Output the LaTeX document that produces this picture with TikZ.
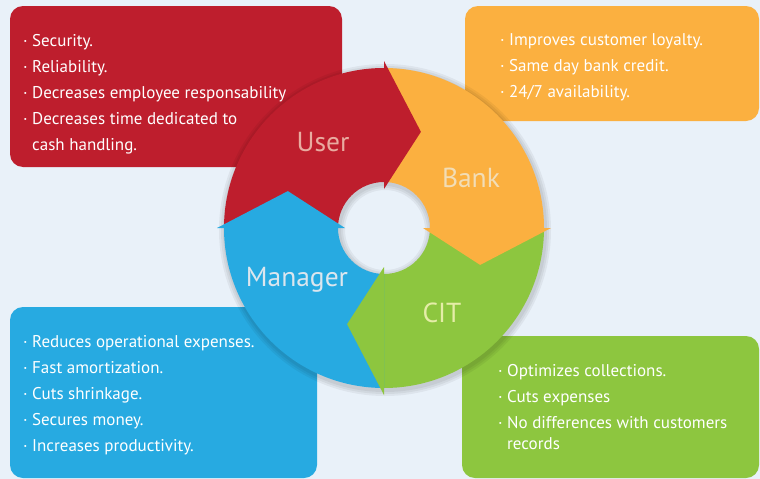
\documentclass[tikz,border=0pt]{standalone}
\usepackage{fontspec}
\setmainfont{PT Sans}
\definecolor{userred}{HTML}{BE1E2D}
\definecolor{bankorange}{HTML}{FBB040}
\definecolor{managerblue}{HTML}{27AAE1}
\definecolor{citgreen}{HTML}{8DC63F}
\definecolor{backblue}{HTML}{E9F1F9}
\definecolor{userlight}{HTML}{E9ABA0}
\definecolor{banklight}{HTML}{F2DDB6}
\definecolor{managerlight}{HTML}{DCE6EE}
\definecolor{citlight}{HTML}{E5EDA8}
\newcommand{\itm}[1]{\makebox[9pt][l]{\textperiodcentered}#1}
\newcommand{\cnt}[1]{\hspace*{9pt}#1}

\begin{document}
\begin{tikzpicture}[x=1pt,y=-1pt]
\tikzstyle{panel} = [rounded corners=13pt]
\tikzstyle{point} = [anchor=base west, inner sep=0pt, text=white, font=\fontsize{17}{20}\selectfont]
\tikzstyle{ringtext} = [inner sep=0pt, font=\fontsize{27.5}{32}\selectfont]
\useasboundingbox (0,0) rectangle (760,479);
\fill[backblue] (0,0) rectangle (760,479);
% panels
\fill[userred,panel] (10,6) rectangle (342,167);
\fill[bankorange,panel] (465,6) rectangle (759,121);
\fill[managerblue,panel] (10,307) rectangle (317,478);
\fill[citgreen,panel] (462,336) rectangle (759,478);
\foreach \t [count=\i] in {\itm{Security.},\itm{Reliability.},\itm{Decreases employee responsability},\itm{Decreases time dedicated to},\cnt{cash handling.}}
    \node[point] (user-\i) at (23,20+26*\i) {\t};
\foreach \t [count=\i] in {\itm{Improves customer loyalty.},\itm{Same day bank credit.},\itm{24/7 availability.}}
    \node[point] (bank-\i) at (500,19+26*\i) {\t};
\foreach \t [count=\i] in {\itm{Reduces operational expenses.},\itm{Fast amortization.},\itm{Cuts shrinkage.},\itm{Secures money.},\itm{Increases productivity.}}
    \node[point] (manager-\i) at (23,321+26*\i) {\t};
\node[point] (cit-1) at (498,376) {\itm{Optimizes collections.}};
\node[point] (cit-2) at (498,402) {\itm{Cuts expenses}};
\node[point] (cit-3) at (498,428) {\itm{No differences with customers}};
\node[point] (cit-4) at (498,449) {\cnt{records}};
% ring
\begin{scope}[shift={(384,228)},y=1pt]
\foreach \s in {2,4,6}
    \fill[black,opacity=.05,even odd rule] (1,-2) circle (160+\s) (1,-2) circle (46-\s);
\foreach \a/\c in {180/userred,90/bankorange,0/citgreen,-90/managerblue}
    \fill[\c] (\a:160) arc[start angle=\a,end angle=\a-90,radius=160]
        -- (\a-90:46) arc[start angle=\a-90,end angle=\a,radius=46] -- cycle;
\foreach \a/\c in {180/userred,90/bankorange,0/citgreen,-90/managerblue}
    \fill[\c] (\a-90:39) -- (\a-90:167) -- (\a-111:103) -- cycle;
\end{scope}
\node[ringtext,text=userlight] (user) at (323,142) {User};
\node[ringtext,text=banklight] (bank) at (471,178) {Bank};
\node[ringtext,text=managerlight] (manager) at (297,280) {Manager};
\node[ringtext,text=citlight] (cit) at (442,313) {CIT};
\end{tikzpicture}
\end{document}
